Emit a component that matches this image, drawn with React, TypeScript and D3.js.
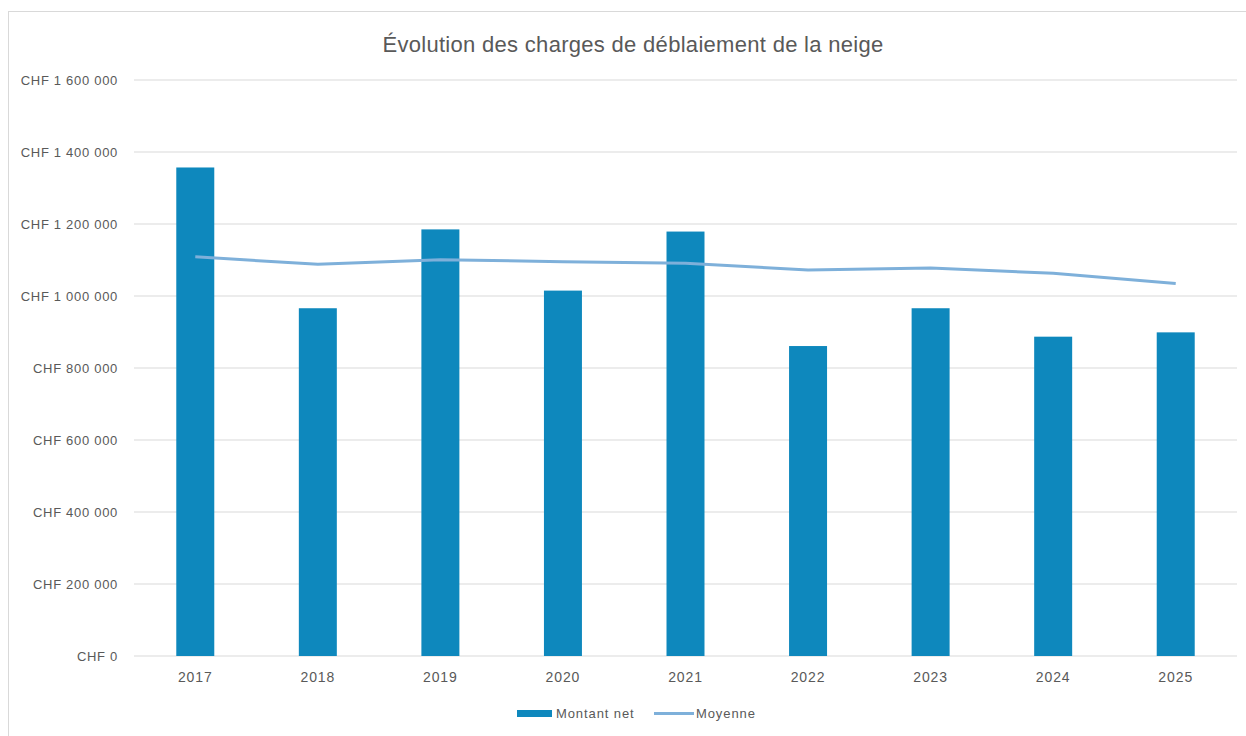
import React from "react";
import * as d3 from "d3";

const years = ["2017", "2018", "2019", "2020", "2021", "2022", "2023", "2024", "2025"];
const montantNet = [1357000, 966000, 1185000, 1015000, 1179000, 861000, 966000, 887000, 899000];
const moyenne = [1109000, 1088000, 1101000, 1095000, 1091000, 1072000, 1078000, 1063000, 1035000];
const yTicks = [0, 200000, 400000, 600000, 800000, 1000000, 1200000, 1400000, 1600000];

const W = 1246;
const H = 736;
const M = { left: 134, right: 1237, top: 80, bottom: 656 };
const FONT = "'Liberation Sans', Arial, sans-serif";
const TXT = "#595959";

function fmt(v: number): string {
  if (v === 0) return "CHF 0";
  const s = String(v).replace(/\B(?=(\d{3})+(?!\d))/g, " ");
  return "CHF " + s;
}

export default function App() {
  const x = d3.scaleBand<string>().domain(years).range([M.left, M.right]).paddingInner(0.69).paddingOuter(0.345);
  const y = d3.scaleLinear().domain([0, 1600000]).range([M.bottom, M.top]);
  const line = d3
    .line<number>()
    .x((_, i) => (x(years[i]) as number) + x.bandwidth() / 2)
    .y((d) => y(d));

  return (
    <svg width={W} height={H} style={{ position: "absolute", left: 0, top: 0, background: "#fff" }}>
      <rect x={8.5} y={11.5} width={1240} height={730} fill="#fff" stroke="#d9d9d9" />
      <text x={633} y={52} textAnchor="middle" fontFamily={FONT} fontSize={22} letterSpacing={0.3} fill={TXT}>
        Évolution des charges de déblaiement de la neige
      </text>
      {yTicks.map((t) => (
        <g key={t}>
          <line x1={M.left} x2={M.right} y1={y(t)} y2={y(t)} stroke="#d9d9d9" strokeWidth={1} />
          <text x={118} y={y(t) + 4.5} textAnchor="end" fontFamily={FONT} fontSize={13} letterSpacing={0.7} fill={TXT}>
            {fmt(t)}
          </text>
        </g>
      ))}
      {years.map((yr, i) => (
        <rect
          key={yr}
          x={x(yr)}
          y={y(montantNet[i])}
          width={x.bandwidth()}
          height={y(0) - y(montantNet[i])}
          fill="#0e88bd"
        />
      ))}
      <path d={line(moyenne) || ""} fill="none" stroke="#7eb0da" strokeWidth={3} strokeLinejoin="round" />
      {years.map((yr) => (
        <text
          key={yr}
          x={(x(yr) as number) + x.bandwidth() / 2}
          y={682}
          textAnchor="middle"
          fontFamily={FONT}
          fontSize={14}
          letterSpacing={0.9}
          fill={TXT}
        >
          {yr}
        </text>
      ))}
      <rect x={517} y={710} width={35} height={7} fill="#0e88bd" />
      <text x={556} y={718} fontFamily={FONT} fontSize={13} letterSpacing={0.9} fill={TXT}>
        Montant net
      </text>
      <line x1={654} x2={694} y1={713.5} y2={713.5} stroke="#7eb0da" strokeWidth={3} />
      <text x={696} y={718} fontFamily={FONT} fontSize={13} letterSpacing={0.9} fill={TXT}>
        Moyenne
      </text>
    </svg>
  );
}
